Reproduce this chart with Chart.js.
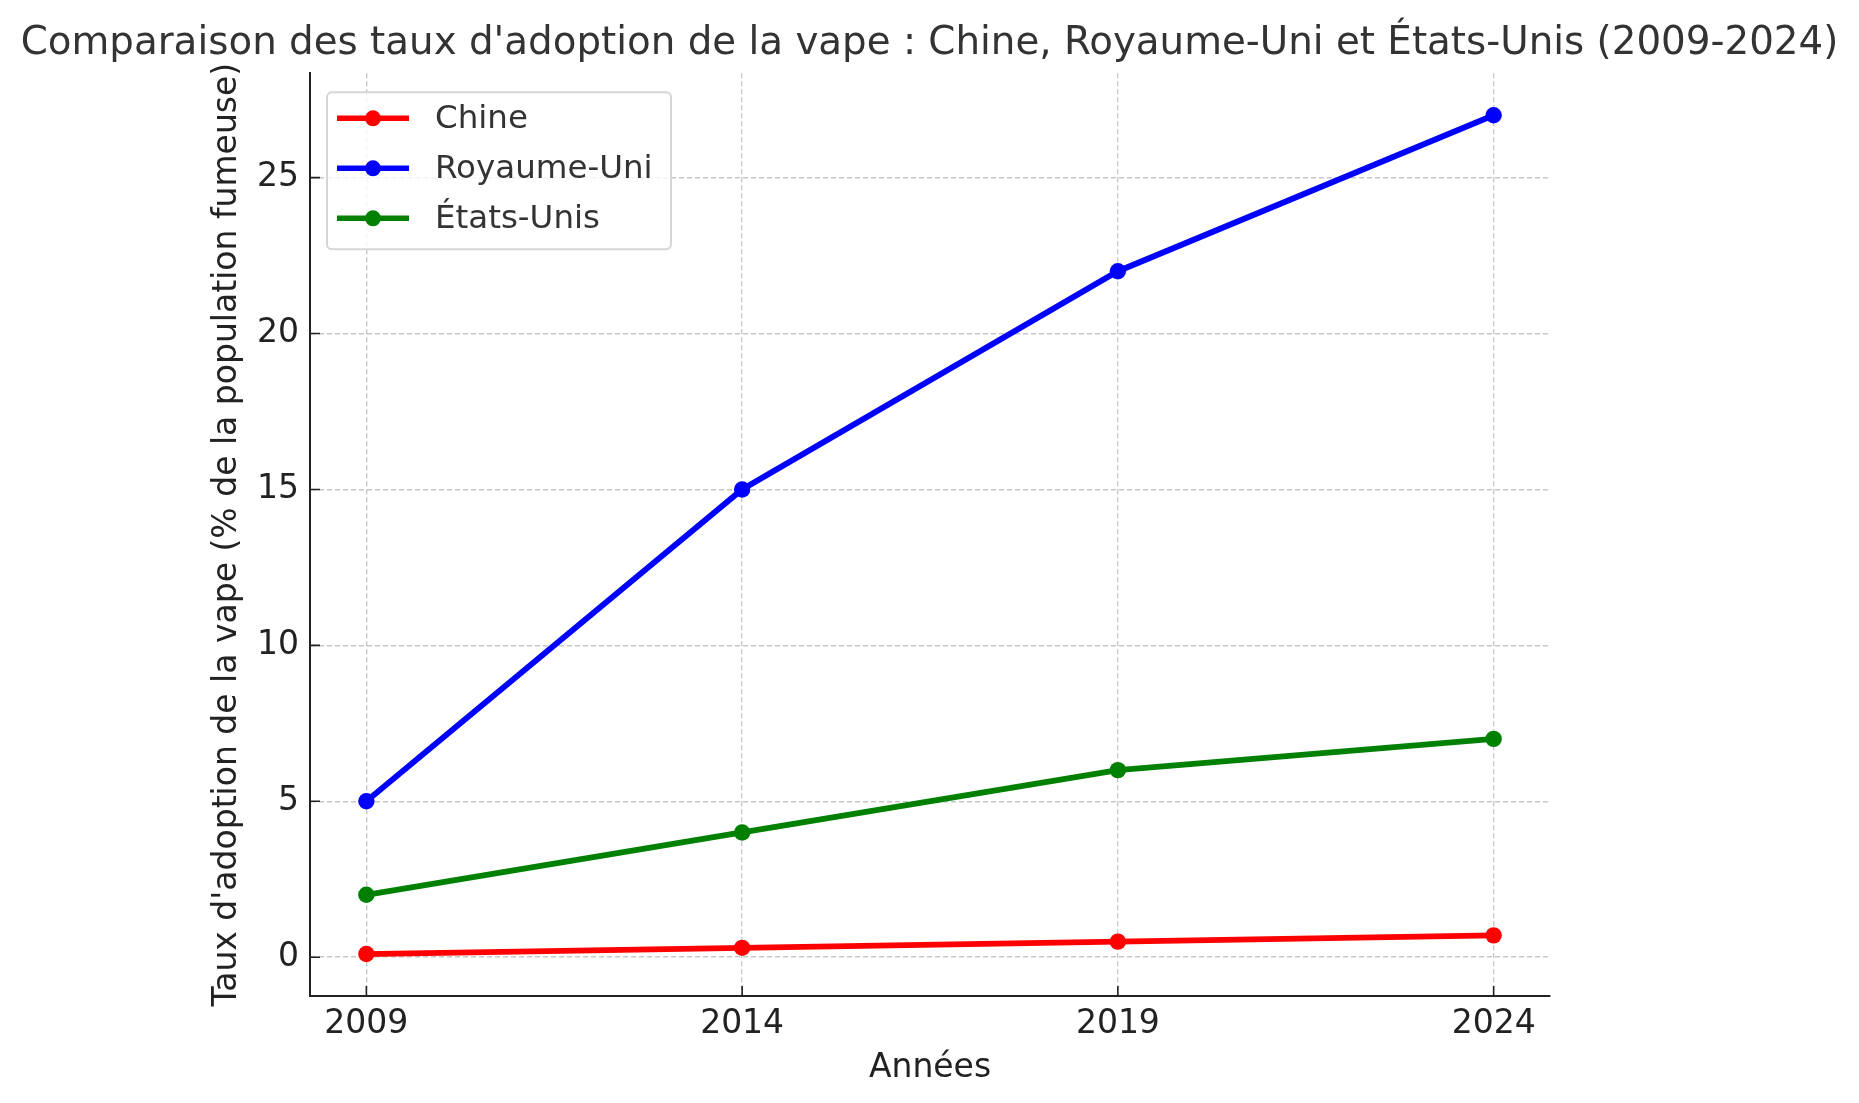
<!DOCTYPE html>
<html>
<head>
<meta charset="utf-8">
<script src="https://cdn.jsdelivr.net/npm/chart.js@4.4.0/dist/chart.umd.min.js"></script>
<style>
  html, body { margin: 0; padding: 0; background: #fff; }
  #wrap { width: 1859px; height: 1103px; }
</style>
</head>
<body>
<div id="wrap"><canvas id="chart" width="1859" height="1103"></canvas></div>
<script>
const years = [2009, 2014, 2019, 2024];
const seriesNames = ["Chine", "Royaume-Uni", "États-Unis"];
const seriesColors = ["#ff0000", "#0000ff", "#008000"];
const chine = [0.1, 0.3, 0.5, 0.7];
const royaumeUni = [5, 15, 22, 27];
const etatsUnis = [2, 4, 6, 7];
const yTicks = [0, 5, 10, 15, 20, 25];

const FONT = "'DejaVu Sans', sans-serif";

function toPoints(values) {
  return values.map((v, i) => ({ x: years[i], y: v }));
}

// matplotlib-style ticks pointing into the plot
const innerTicks = {
  id: "innerTicks",
  beforeDatasetsDraw(chart) {
    const { ctx, chartArea, scales } = chart;
    ctx.save();
    ctx.strokeStyle = "#222";
    ctx.lineWidth = 1.6;
    ctx.beginPath();
    years.forEach(v => {
      const x = scales.x.getPixelForValue(v);
      ctx.moveTo(x, chartArea.bottom);
      ctx.lineTo(x, chartArea.bottom - 10);
    });
    yTicks.forEach(v => {
      const y = scales.y.getPixelForValue(v);
      ctx.moveTo(chartArea.left, y);
      ctx.lineTo(chartArea.left + 10, y);
    });
    ctx.stroke();
    ctx.restore();
  }
};

// legend box inside the plot, upper left
const boxLegend = {
  id: "boxLegend",
  afterDraw(chart) {
    const { ctx, chartArea } = chart;
    const x0 = chartArea.left + 17, y0 = chartArea.top + 19;
    const w = 344, h = 157, r = 5;
    ctx.save();
    ctx.beginPath();
    ctx.roundRect(x0, y0, w, h, r);
    ctx.fillStyle = "rgba(255,255,255,0.8)";
    ctx.fill();
    ctx.lineWidth = 2;
    ctx.strokeStyle = "#d6d6d6";
    ctx.stroke();
    ctx.font = "32.5px " + FONT;
    ctx.textBaseline = "middle";
    seriesNames.forEach((name, i) => {
      const y = y0 + 26 + i * 50;
      ctx.strokeStyle = seriesColors[i];
      ctx.lineWidth = 5.5;
      ctx.beginPath();
      ctx.moveTo(x0 + 10, y);
      ctx.lineTo(x0 + 82, y);
      ctx.stroke();
      ctx.fillStyle = seriesColors[i];
      ctx.beginPath();
      ctx.arc(x0 + 46, y, 8, 0, Math.PI * 2);
      ctx.fill();
      ctx.fillStyle = "#333";
      ctx.fillText(name, x0 + 108, y + 1);
    });
    ctx.restore();
  }
};

const datasets = [chine, royaumeUni, etatsUnis].map((vals, i) => ({
  label: seriesNames[i],
  data: toPoints(vals),
  borderColor: seriesColors[i],
  backgroundColor: seriesColors[i],
  borderWidth: 5.8,
  pointRadius: 8.2,
  pointBorderWidth: 0,
  pointBackgroundColor: seriesColors[i],
  tension: 0,
  fill: false,
  clip: false
}));

new Chart(document.getElementById("chart").getContext("2d"), {
  type: "line",
  data: { datasets },
  options: {
    responsive: false,
    animation: false,
    layout: { padding: { left: 0, right: 0, top: 0, bottom: 14.5 } },
    plugins: {
      legend: { display: false },
      tooltip: { enabled: false },
      title: {
        display: true,
        text: "Comparaison des taux d'adoption de la vape : Chine, Royaume-Uni et États-Unis (2009-2024)",
        color: "#333",
        font: { family: FONT, size: 38.8, weight: "normal" },
        padding: { top: 20.5, bottom: 6.3 }
      }
    },
    scales: {
      x: {
        type: "linear",
        min: 2008.25,
        max: 2024.75,
        afterBuildTicks: s => { s.ticks = years.map(v => ({ value: v })); },
        afterFit: s => { s.height = 92.5; },
        ticks: {
          color: "#222",
          font: { family: FONT, size: 33 },
          padding: 8.5,
          maxRotation: 0,
          callback: v => String(v)
        },
        grid: { color: "#c8c8c8", lineWidth: 1.4, drawTicks: false },
        border: { color: "#222", width: 2, dash: [5, 3] },
        title: {
          display: true,
          text: "Années",
          color: "#222",
          font: { family: FONT, size: 33 },
          padding: 0
        }
      },
      y: {
        type: "linear",
        min: -1.245,
        max: 28.345,
        afterBuildTicks: s => { s.ticks = yTicks.map(v => ({ value: v })); },
        afterFit: s => { s.width = 310; },
        ticks: {
          color: "#222",
          font: { family: FONT, size: 33 },
          padding: 11
        },
        grid: { color: "#c8c8c8", lineWidth: 1.4, drawTicks: false },
        border: { color: "#222", width: 2, dash: [5, 3] },
        title: {
          display: true,
          text: "Taux d'adoption de la vape (% de la population fumeuse)",
          color: "#222",
          font: { family: FONT, size: 33 },
          padding: { top: 208, bottom: 0 }
        }
      },
      // empty right-hand box that reserves the figure margin
      spacer: {
        type: "linear",
        position: "right",
        min: 0,
        max: 1,
        afterFit: s => { s.width = 309; },
        ticks: { display: false },
        grid: { display: false },
        border: { display: false }
      }
    }
  },
  plugins: [innerTicks, boxLegend]
});
</script>
</body>
</html>
